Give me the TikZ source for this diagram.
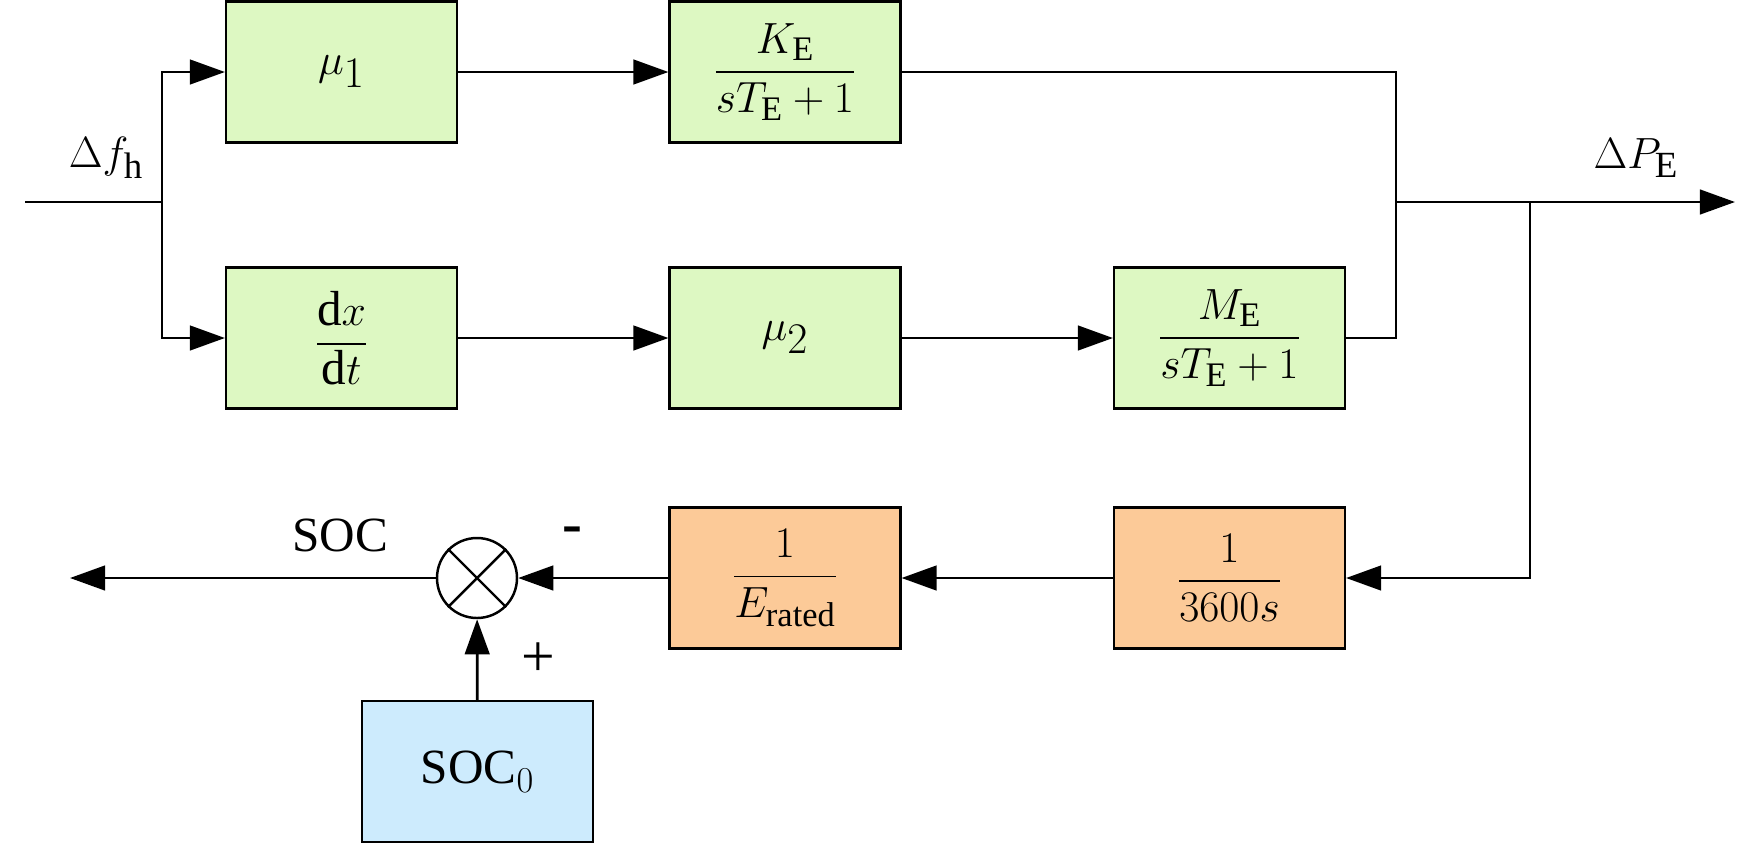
\documentclass[tikz,border=0pt]{standalone}
\usepackage{amsmath}
\usepackage{fontspec}
\setmainfont{Liberation Serif}
\usetikzlibrary{arrows.meta}
\definecolor{gr}{HTML}{DDF8C2}
\definecolor{og}{HTML}{FCCA98}
\definecolor{bl}{HTML}{CDEBFD}
\begin{document}
\begin{tikzpicture}[x=0.02cm,y=-0.02cm,
 box/.style={draw,line width=1.2pt,minimum width=231*0.02cm,minimum height=141*0.02cm,inner sep=0pt,font=\fontsize{28}{32}\selectfont},
 ln/.style={line width=1.6pt},
 ar/.style={ln,-{Triangle[length=20pt,width=14pt]}},
 lb/.style={font=\fontsize{30}{34}\selectfont}]
\useasboundingbox (0,0) rectangle (1739,853);
\node[box,fill=gr] (m1) at (341.5,72) {\fontsize{40}{44}\selectfont$\mu_1$};
\node[box,fill=gr] (ke) at (785,72) {$\dfrac{K_{\mathrm{E}}}{sT_{\mathrm{E}}+1}$};
\node[box,fill=gr] (dd) at (341.5,338) {$\dfrac{\mathrm{d}x}{\mathrm{d}t}$};
\node[box,fill=gr] (m2) at (785,338) {\fontsize{40}{44}\selectfont$\mu_2$};
\node[box,fill=gr] (me) at (1229.5,338) {$\dfrac{M_{\mathrm{E}}}{sT_{\mathrm{E}}+1}$};
\node[box,fill=og] (er) at (785,578) {$\dfrac{1}{E_{\mathrm{rated}}}$};
\node[box,fill=og] (ts) at (1229.5,578) {$\dfrac{1}{3600s}$};
\node[box,fill=bl] (s0) at (477.5,771.5) {SOC$_0$};
\node[draw,circle,line width=1.4pt,minimum size=80*0.02cm,inner sep=0pt,fill=white] (c) at (477,578) {};
\draw[line width=1.4pt] (c.45)--(c.225) (c.135)--(c.-45);
\coordinate (in) at (25,202);
\coordinate (br) at (162,202);
\coordinate (mg) at (1396,202);
\coordinate (jn) at (1530,202);
\coordinate (out) at (1735,202);
\coordinate (so) at (70,578);
\draw[ln] (in)--(br);
\draw[ar] (br)|-(m1);
\draw[ar] (br)|-(dd);
\draw[ar] (m1)--(ke);
\draw[ar] (dd)--(m2);
\draw[ar] (m2)--(me);
\draw[ln] (ke.east)-|(mg);
\draw[ln] (me.east)-|(mg);
\draw[ar] (mg)--(out);
\draw[ar] (jn)|-(ts.east);
\draw[ar] (ts)--(er);
\draw[ar] (er)--(c);
\draw[ar] (s0)--(c);
\draw[ar] (c)--(so);
\node[lb] (df) at (106,158) {$\Delta f_{\mathrm{h}}$};
\node[lb] (dp) at (1636,158) {$\Delta P_{\mathrm{E}}$};
\node[font=\fontsize{28}{32}\selectfont] (soc) at (340,535) {SOC};
\node[font=\bfseries\fontsize{34}{38}\selectfont] (mi) at (572,535) {-};
\node[font=\fontsize{34}{38}\selectfont] (pl) at (538,660) {+};
\end{tikzpicture}
\end{document}
